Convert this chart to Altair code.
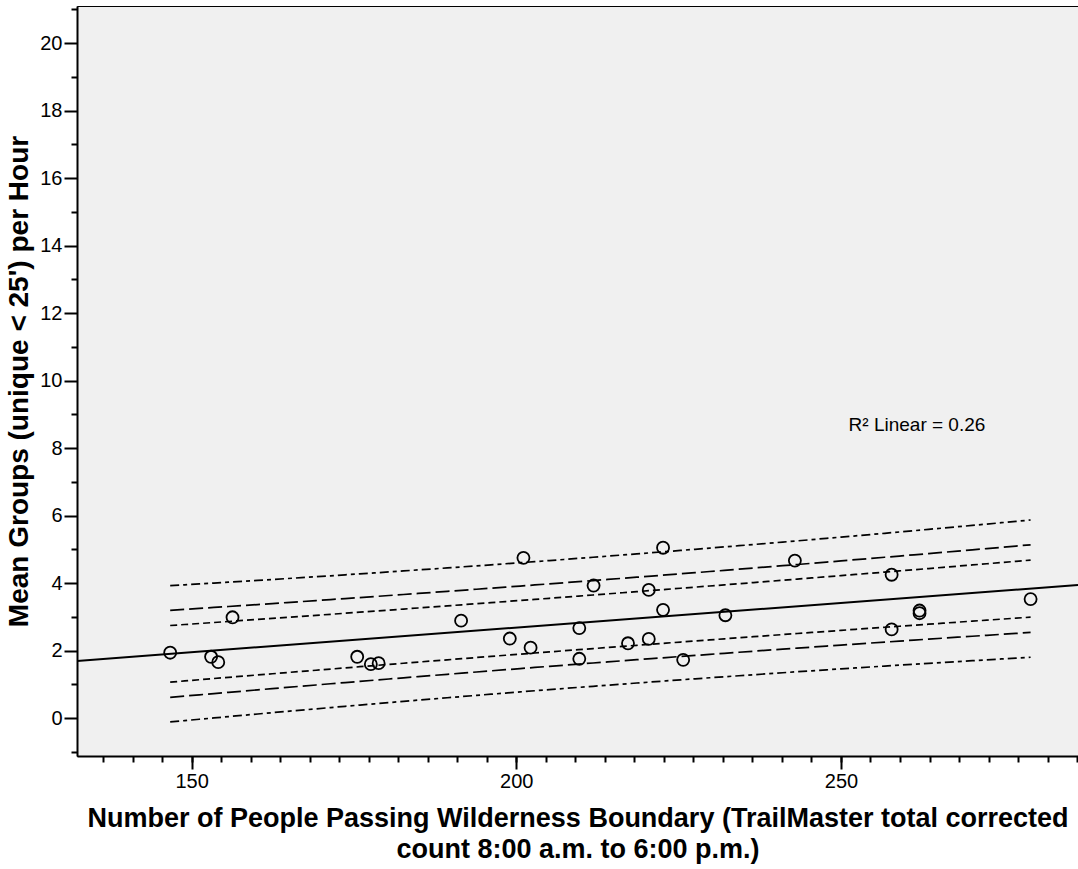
import altair as alt
import numpy as np
import pandas as pd

# One entry per sampled day: TrailMaster count vs. mean groups per hour
people = [146.7, 153.0, 154.1, 156.3, 175.5, 177.6, 178.8, 191.5, 199.0,
          201.1, 202.2, 209.7, 209.7, 211.9, 217.2, 220.4, 220.4, 222.6,
          222.6, 225.7, 232.2, 242.9, 257.8, 257.8, 262.1, 262.1, 279.2]
groups = [1.94, 1.82, 1.66, 2.99, 1.82, 1.60, 1.63, 2.89, 2.36,
          4.75, 2.09, 2.67, 1.76, 3.93, 2.22, 3.80, 2.35, 5.05,
          3.21, 1.73, 3.05, 4.67, 4.25, 2.63, 3.19, 3.11, 3.53]

x_domain = [132.35, 286.5]
y_domain = [-1.12, 21.1]
x_major = [150, 200, 250]
y_major = list(range(0, 21, 2))
y_minor = list(range(-1, 22, 2))
# minor x ticks: eleven steps between labelled values
x_minor = [150 + k * 50 / 11 for k in range(-3, 31)]

# prediction-interval bands: label, two-sided t critical value (df = 25), dash
band_levels = ["60%", "80%", "95%"]
band_t = [0.856, 1.316, 2.060]
band_dash = [[7, 4], [14, 5], [9, 4, 4, 4]]

r2_label = "R\u00b2 Linear = 0.26"
r2_pos = (261.7, 8.7)

FONT = "Liberation Sans"

# least-squares fit and prediction intervals
xa = np.array(people)
ya = np.array(groups)
n = len(xa)
slope, intercept = np.polyfit(xa, ya, 1)
resid = ya - (intercept + slope * xa)
s = np.sqrt(np.sum(resid ** 2) / (n - 2))
xbar = xa.mean()
sxx = np.sum((xa - xbar) ** 2)

fit_df = pd.DataFrame({"people": x_domain,
                       "groups": [intercept + slope * v for v in x_domain]})

xs = np.linspace(xa.min(), xa.max(), 60)
half = s * np.sqrt(1 + 1 / n + (xs - xbar) ** 2 / sxx)
band_rows = []
for lvl, t in zip(band_levels, band_t):
    for side, sign in (("upper", 1), ("lower", -1)):
        for xv, hv in zip(xs, half):
            band_rows.append({"people": xv,
                              "groups": intercept + slope * xv + sign * t * hv,
                              "level": lvl, "side": side})
band_df = pd.DataFrame(band_rows)

pts_df = pd.DataFrame({"people": people, "groups": groups})

xscale = alt.Scale(domain=x_domain, nice=False, zero=False)
yscale = alt.Scale(domain=y_domain, nice=False, zero=False)

x_axis_major = alt.Axis(
    values=x_major, tickSize=13, tickWidth=2, tickColor="black",
    labelFontSize=20, labelFont=FONT, labelColor="black", labelPadding=2,
    domainColor="black", domainWidth=2, grid=False,
    title=["Number of People Passing Wilderness Boundary (TrailMaster total corrected",
           "count 8:00 a.m. to 6:00 p.m.)"],
    titleFont=FONT, titleFontSize=27, titleFontWeight="bold", titleColor="black",
    titleLineHeight=31, titlePadding=14, orient="bottom")
y_axis_major = alt.Axis(
    values=y_major, tickSize=13, tickWidth=2, tickColor="black",
    labelFontSize=20, labelFont=FONT, labelColor="black", labelPadding=2,
    domainColor="black", domainWidth=2, grid=False,
    title="Mean Groups (unique < 25') per Hour",
    titleFont=FONT, titleFontSize=28, titleFontWeight="bold", titleColor="black",
    titlePadding=6, orient="left")
x_axis_minor = alt.Axis(values=x_minor, tickSize=6, tickWidth=2, tickColor="black",
                        labels=False, domain=False, grid=False, title=None,
                        orient="bottom")
y_axis_minor = alt.Axis(values=y_minor, tickSize=6, tickWidth=2, tickColor="black",
                        labels=False, domain=False, grid=False, title=None,
                        orient="left")

points = alt.Chart(pts_df).mark_point(
    shape="circle", filled=False, color="black", strokeWidth=1.8, size=145, opacity=1
).encode(
    x=alt.X("people:Q", scale=xscale, axis=x_axis_major),
    y=alt.Y("groups:Q", scale=yscale, axis=y_axis_major),
)

fit = alt.Chart(fit_df).mark_line(color="black", strokeWidth=2, clip=True).encode(
    x=alt.X("people:Q", scale=xscale, axis=x_axis_minor),
    y=alt.Y("groups:Q", scale=yscale, axis=y_axis_minor),
)

bands = []
for lvl, dash in zip(band_levels, band_dash):
    bands.append(
        alt.Chart(band_df[band_df["level"] == lvl]).mark_line(
            color="black", strokeWidth=1.7, strokeDash=dash, clip=True
        ).encode(
            x=alt.X("people:Q", scale=xscale, axis=None),
            y=alt.Y("groups:Q", scale=yscale, axis=None),
            detail="side:N",
        )
    )

label = alt.Chart(pd.DataFrame({"people": [r2_pos[0]], "groups": [r2_pos[1]],
                                "text": [r2_label]})).mark_text(
    font=FONT, fontSize=19, color="black", align="center", baseline="middle"
).encode(
    x=alt.X("people:Q", scale=xscale, axis=None),
    y=alt.Y("groups:Q", scale=yscale, axis=None),
    text="text:N",
)

chart = alt.layer(points, fit, *bands, label).resolve_axis(
    x="independent", y="independent"
).properties(
    width=1001, height=750,
    padding={"left": 77, "top": 6, "right": 0, "bottom": 113},
    autosize=alt.AutoSizeParams(type="none"),
    background="white",
).configure_view(fill="#f0f0f0", stroke="black", strokeWidth=1)

chart.save("out.html", embed_options={"renderer": "svg", "actions": False})
